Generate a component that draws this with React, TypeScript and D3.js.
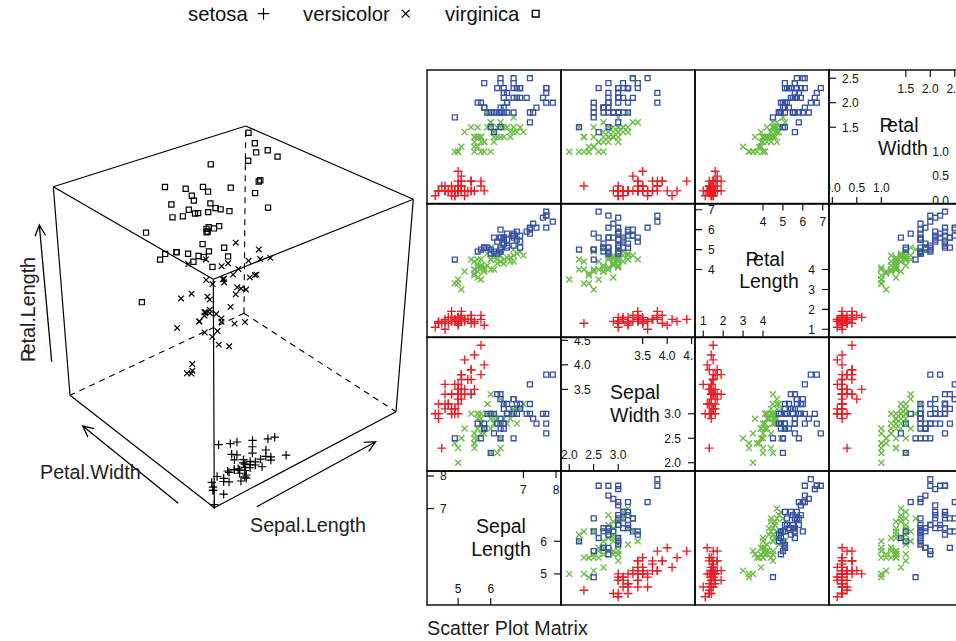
import React from "react";
import * as d3 from "d3";

const setosaSepalLength = [5.1,4.9,4.7,4.6,5.0,5.4,4.6,5.0,4.4,4.9,5.4,4.8,4.8,4.3,5.8,5.7,5.4,5.1,5.7,5.1,5.4,5.1,4.6,5.1,4.8,5.0,5.0,5.2,5.2,4.7,4.8,5.4,5.2,5.5,4.9,5.0,5.5,4.9,4.4,5.1,5.0,4.5,4.4,5.0,5.1,4.8,5.1,4.6,5.3,5.0];
const setosaSepalWidth = [3.5,3.0,3.2,3.1,3.6,3.9,3.4,3.4,2.9,3.1,3.7,3.4,3.0,3.0,4.0,4.4,3.9,3.5,3.8,3.8,3.4,3.7,3.6,3.3,3.4,3.0,3.4,3.5,3.4,3.2,3.1,3.4,4.1,4.2,3.1,3.2,3.5,3.6,3.0,3.4,3.5,2.3,3.2,3.5,3.8,3.0,3.8,3.2,3.7,3.3];
const setosaPetalLength = [1.4,1.4,1.3,1.5,1.4,1.7,1.4,1.5,1.4,1.5,1.5,1.6,1.4,1.1,1.2,1.5,1.3,1.4,1.7,1.5,1.7,1.5,1.0,1.7,1.9,1.6,1.6,1.5,1.4,1.6,1.6,1.5,1.5,1.4,1.5,1.2,1.3,1.4,1.3,1.5,1.3,1.3,1.3,1.6,1.9,1.4,1.6,1.4,1.5,1.4];
const setosaPetalWidth = [0.2,0.2,0.2,0.2,0.2,0.4,0.3,0.2,0.2,0.1,0.2,0.2,0.1,0.1,0.2,0.4,0.4,0.3,0.3,0.3,0.2,0.4,0.2,0.5,0.2,0.2,0.4,0.2,0.2,0.2,0.2,0.4,0.1,0.2,0.2,0.2,0.2,0.1,0.2,0.2,0.3,0.3,0.2,0.6,0.4,0.3,0.2,0.2,0.2,0.2];

const versicolorSepalLength = [7.0,6.4,6.9,5.5,6.5,5.7,6.3,4.9,6.6,5.2,5.0,5.9,6.0,6.1,5.6,6.7,5.6,5.8,6.2,5.6,5.9,6.1,6.3,6.1,6.4,6.6,6.8,6.7,6.0,5.7,5.5,5.5,5.8,6.0,5.4,6.0,6.7,6.3,5.6,5.5,5.5,6.1,5.8,5.0,5.6,5.7,5.7,6.2,5.1,5.7];
const versicolorSepalWidth = [3.2,3.2,3.1,2.3,2.8,2.8,3.3,2.4,2.9,2.7,2.0,3.0,2.2,2.9,2.9,3.1,3.0,2.7,2.2,2.5,3.2,2.8,2.5,2.8,2.9,3.0,2.8,3.0,2.9,2.6,2.4,2.4,2.7,2.7,3.0,3.4,3.1,2.3,3.0,2.5,2.6,3.0,2.6,2.3,2.7,3.0,2.9,2.9,2.5,2.8];
const versicolorPetalLength = [4.7,4.5,4.9,4.0,4.6,4.5,4.7,3.3,4.6,3.9,3.5,4.2,4.0,4.7,3.6,4.4,4.5,4.1,4.5,3.9,4.8,4.0,4.9,4.7,4.3,4.4,4.8,5.0,4.5,3.5,3.8,3.7,3.9,5.1,4.5,4.5,4.7,4.4,4.1,4.0,4.4,4.6,4.0,3.3,4.2,4.2,4.2,4.3,3.0,4.1];
const versicolorPetalWidth = [1.4,1.5,1.5,1.3,1.5,1.3,1.6,1.0,1.3,1.4,1.0,1.5,1.0,1.4,1.3,1.4,1.5,1.0,1.5,1.1,1.8,1.3,1.5,1.2,1.3,1.4,1.4,1.7,1.5,1.0,1.1,1.0,1.2,1.6,1.5,1.6,1.5,1.3,1.3,1.3,1.2,1.4,1.2,1.0,1.3,1.2,1.3,1.3,1.1,1.3];

const virginicaSepalLength = [6.3,5.8,7.1,6.3,6.5,7.6,4.9,7.3,6.7,7.2,6.5,6.4,6.8,5.7,5.8,6.4,6.5,7.7,7.7,6.0,6.9,5.6,7.7,6.3,6.7,7.2,6.2,6.1,6.4,7.2,7.4,7.9,6.4,6.3,6.1,7.7,6.3,6.4,6.0,6.9,6.7,6.9,5.8,6.8,6.7,6.7,6.3,6.5,6.2,5.9];
const virginicaSepalWidth = [3.3,2.7,3.0,2.9,3.0,3.0,2.5,2.9,2.5,3.6,3.2,2.7,3.0,2.5,2.8,3.2,3.0,3.8,2.6,2.2,3.2,2.8,2.8,2.7,3.3,3.2,2.8,3.0,2.8,3.0,2.8,3.8,2.8,2.8,2.6,3.0,3.4,3.1,3.0,3.1,3.1,3.1,2.7,3.2,3.3,3.0,2.5,3.0,3.4,3.0];
const virginicaPetalLength = [6.0,5.1,5.9,5.6,5.8,6.6,4.5,6.3,5.8,6.1,5.1,5.3,5.5,5.0,5.1,5.3,5.5,6.7,6.9,5.0,5.7,4.9,6.7,4.9,5.7,6.0,4.8,4.9,5.6,5.8,6.1,6.4,5.6,5.1,5.6,6.1,5.6,5.5,4.8,5.4,5.6,5.1,5.1,5.9,5.7,5.2,5.0,5.2,5.4,5.1];
const virginicaPetalWidth = [2.5,1.9,2.1,1.8,2.2,2.1,1.7,1.8,1.8,2.5,2.0,1.9,2.1,2.0,2.4,2.3,1.8,2.2,2.3,1.5,2.3,2.0,2.0,1.8,2.1,1.8,1.8,1.8,2.1,1.6,1.9,2.0,2.2,1.5,1.4,2.3,2.4,1.8,1.8,2.1,2.4,2.3,1.9,2.3,2.5,2.3,1.9,2.0,2.3,1.8];

const speciesNames = ["setosa", "versicolor", "virginica"];
const speciesColors = ["#ed1c24", "#6abd45", "#3953a4"];
const measures = [
  [setosaSepalLength, versicolorSepalLength, virginicaSepalLength],
  [setosaSepalWidth, versicolorSepalWidth, virginicaSepalWidth],
  [setosaPetalLength, versicolorPetalLength, virginicaPetalLength],
  [setosaPetalWidth, versicolorPetalWidth, virginicaPetalWidth],
];
const labelLines = [["Sepal", "Length"], ["Sepal", "Width"], ["Petal", "Length"], ["Petal", "Width"]];
const lowTicks = [[5, 6], [2, 2.5, 3], [1, 2, 3, 4], [0, 0.5, 1]];
const highTicks = [[7, 8], [3.5, 4, 4.5], [4, 5, 6, 7], [1.5, 2, 2.5]];
const tickDigits = [0, 1, 0, 1];

const FONT = "'Liberation Sans', Arial, sans-serif";
const colX = [427, 561, 695, 829];
const rowBottom = [605, 471, 337.5, 204]; // by variable index
const cell = 134;

const extents = measures.map((m) => d3.extent(m.flat()) as [number, number]);
const padded = extents.map(([a, b]) => [a - (b - a) * 0.07, b + (b - a) * 0.07]);
const xScales = padded.map((d, i) => d3.scaleLinear().domain(d).range([colX[i], colX[i] + cell]));
const yScales = padded.map((d, i) => d3.scaleLinear().domain(d).range([rowBottom[i], rowBottom[i] - cell]));

function marker(kind: number, x: number, y: number, s: number) {
  const p = d3.path();
  if (kind === 0) {
    p.moveTo(x - s, y); p.lineTo(x + s, y); p.moveTo(x, y - s); p.lineTo(x, y + s);
  } else if (kind === 1) {
    const k = s * 0.72;
    p.moveTo(x - k, y - k); p.lineTo(x + k, y + k); p.moveTo(x - k, y + k); p.lineTo(x + k, y - k);
  } else {
    const k = s * 0.56;
    p.rect(x - k, y - k, 2 * k, 2 * k);
  }
  return p.toString();
}

// projective box for the 3D cloud, corners
type P = [number, number];
const O: P = [214.3, 507.7];
const A: P = [396, 411.7];   // + Sepal.Length
const B: P = [70, 395.3];    // + Petal.Width
const C: P = [213.3, 279.3]; // + Petal.Length
const AB: P = [244, 313.3];
const AC: P = [413.3, 199.3];
const BC: P = [53.3, 186.7];
const ABC: P = [245.7, 126];

function weights(o: P, a: P, b: P, d: P): [number, number] {
  const m = [a[0] - d[0], b[0] - d[0], a[1] - d[1], b[1] - d[1]];
  const r = [o[0] - d[0], o[1] - d[1]];
  const det = m[0] * m[3] - m[1] * m[2];
  return [(r[0] * m[3] - m[1] * r[1]) / det, (m[0] * r[1] - m[2] * r[0]) / det];
}
const [wA, wB] = weights(O, A, B, AB);
const [, wC] = weights(O, A, C, AC);

function project(x: number, y: number, z: number): P {
  const w = 1 + x * (wA - 1) + y * (wB - 1) + z * (wC - 1);
  const h = [0, 1].map((i) => O[i] + x * (wA * A[i] - O[i]) + y * (wB * B[i] - O[i]) + z * (wC * C[i] - O[i]));
  return [h[0] / w, h[1] / w];
}
const cx = d3.scaleLinear().domain(extents[0]).range([0, 1]);
const cy = d3.scaleLinear().domain(extents[3]).range([0, 1]);
const cz = d3.scaleLinear().domain([extents[2][0], 7.5]).range([0, 1]);

const solidEdges: [P, P][] = [[O, A], [O, B], [O, C], [A, AC], [B, BC], [C, AC], [C, BC], [AC, ABC], [BC, ABC]];
const dashedEdges: [P, P][] = [[AB, A], [AB, B], [AB, ABC]];

function Arrow({ from, to }: { from: P; to: P }) {
  const ang = Math.atan2(to[1] - from[1], to[0] - from[0]);
  const len = 12, spread = 0.45;
  const p = d3.path();
  p.moveTo(from[0], from[1]); p.lineTo(to[0], to[1]);
  p.moveTo(to[0] - len * Math.cos(ang - spread), to[1] - len * Math.sin(ang - spread));
  p.lineTo(to[0], to[1]);
  p.lineTo(to[0] - len * Math.cos(ang + spread), to[1] - len * Math.sin(ang + spread));
  return <path d={p.toString()} fill="none" stroke="#000" strokeWidth={1.3} />;
}

// The reference sets the "P" of Petal tight against the next letter.
function Word({ s }: { s: string }) {
  return s.startsWith("P") ? (
    <>
      <tspan>{s[0]}</tspan>
      <tspan dx={-5.5}>{s.slice(1)}</tspan>
    </>
  ) : (
    <>{s}</>
  );
}

function Diagonal({ v }: { v: number }) {
  const L = colX[v], B0 = rowBottom[v], T = B0 - cell, R = L + cell;
  const x = xScales[v], y = yScales[v];
  const f = (t: number) => t.toFixed(tickDigits[v]);
  const tl = 7, fs = 12;
  return (
    <g fontSize={fs} fill="#111" clipPath={`url(#diag${v})`}>
      {lowTicks[v].map((t) => (
        <g key={"l" + t}>
          <line x1={x(t)} x2={x(t)} y1={B0} y2={B0 - tl} stroke="#000" strokeWidth={1.1} />
          <text x={x(t)} y={B0 - 12.5} textAnchor="middle">{f(t)}</text>
          <line x1={R} x2={R - tl} y1={y(t)} y2={y(t)} stroke="#000" strokeWidth={1.1} />
          <text x={R - 14} y={y(t) + 4.3} textAnchor="end">{f(t)}</text>
        </g>
      ))}
      {highTicks[v].map((t) => (
        <g key={"h" + t}>
          <line x1={x(t)} x2={x(t)} y1={T} y2={T + tl} stroke="#000" strokeWidth={1.1} />
          <text x={x(t)} y={T + 22.5} textAnchor="middle">{f(t)}</text>
          <line x1={L} x2={L + tl} y1={y(t)} y2={y(t)} stroke="#000" strokeWidth={1.1} />
          <text x={L + 13} y={y(t) + 4.3} textAnchor="start">{f(t)}</text>
        </g>
      ))}
      {labelLines[v].map((s, i) => (
        <text key={s} x={L + cell / 2 + 7 - (s === "Petal" ? 4 : 0)} y={T + 62 + i * 22.5} fontSize={19.5} textAnchor="middle"><Word s={s} /></text>
      ))}
    </g>
  );
}

export default function App() {
  return (
    <svg width={956} height={641} viewBox="0 0 956 641" fontFamily={FONT}
      style={{ position: "absolute", left: 0, top: 0, background: "#fff" }}>
      <defs>
        {[0, 1, 2, 3].map((v) => (
          <clipPath key={v} id={`diag${v}`}>
            <rect x={colX[v]} y={rowBottom[v] - cell} width={cell} height={cell} />
          </clipPath>
        ))}
      </defs>
      {/* legend */}
      <g fontSize={20.3} fill="#111">
        <text x={188} y={21}>setosa</text>
        <text x={303} y={21}>versicolor</text>
        <text x={445} y={21}>virginica</text>
      </g>
      <path d={marker(0, 263.5, 13.7, 5.8)} stroke="#000" fill="none" strokeWidth={1.2} />
      <path d={marker(1, 405.7, 13.7, 5.5)} stroke="#000" fill="none" strokeWidth={1.2} />
      <path d={marker(2, 535.7, 13.7, 6)} stroke="#000" fill="none" strokeWidth={1.4} />

      {/* cloud */}
      {dashedEdges.map(([a, b], i) => (
        <line key={i} x1={a[0]} y1={a[1]} x2={b[0]} y2={b[1]} stroke="#000" strokeWidth={1.1} strokeDasharray="6 5" />
      ))}
      {solidEdges.map(([a, b], i) => (
        <line key={i} x1={a[0]} y1={a[1]} x2={b[0]} y2={b[1]} stroke="#000" strokeWidth={1.2} />
      ))}
      {speciesNames.map((_, s) => (
        <g key={s} fill="none" stroke="#000" strokeWidth={1.2}>
          {measures[0][s].map((sl, i) => {
            const [px, py] = project(cx(sl), cy(measures[3][s][i]), cz(measures[2][s][i]));
            return <path key={i} d={marker(s, px, py, s === 0 ? 4.2 : s === 1 ? 3.9 : 4.6)} />;
          })}
        </g>
      ))}
      <Arrow from={[51.7, 361.7]} to={[39.3, 225]} />
      <Arrow from={[178.3, 503.3]} to={[82.7, 426]} />
      <Arrow from={[256.7, 506.7]} to={[375.7, 441.7]} />
      <g fontSize={19.7} fill="#222">
        <text x={40} y={479}>Petal.Width</text>
        <text x={250} y={532}>Sepal.Length</text>
        <text transform="translate(35,362) rotate(-90)"><Word s="Petal.Length" /></text>
      </g>

      {/* splom */}
      {[0, 1, 2, 3].map((rowV) =>
        [0, 1, 2, 3].map((colV) =>
          rowV === colV ? (
            <Diagonal key={`${rowV}-${colV}`} v={rowV} />
          ) : (
            <g key={`${rowV}-${colV}`} fill="none" strokeWidth={1.35}>
              {speciesNames.map((_, s) => (
                <g key={s} stroke={speciesColors[s]}>
                  {measures[colV][s].map((xv, i) => (
                    <path key={i} d={marker(s, xScales[colV](xv), yScales[rowV](measures[rowV][s][i]), s === 0 ? 4.4 : s === 1 ? 4.2 : 4.4)} />
                  ))}
                </g>
              ))}
            </g>
          )
        )
      )}
      {[0, 1, 2, 3].map((rowV) =>
        [0, 1, 2, 3].map((colV) => (
          <rect key={`f${rowV}-${colV}`} x={colX[colV]} y={rowBottom[rowV] - cell} width={cell} height={cell}
            fill="none" stroke="#000" strokeWidth={1.4} />
        ))
      )}
      <text x={427} y={635} fontSize={19.7} fill="#222">Scatter Plot Matrix</text>
    </svg>
  );
}
